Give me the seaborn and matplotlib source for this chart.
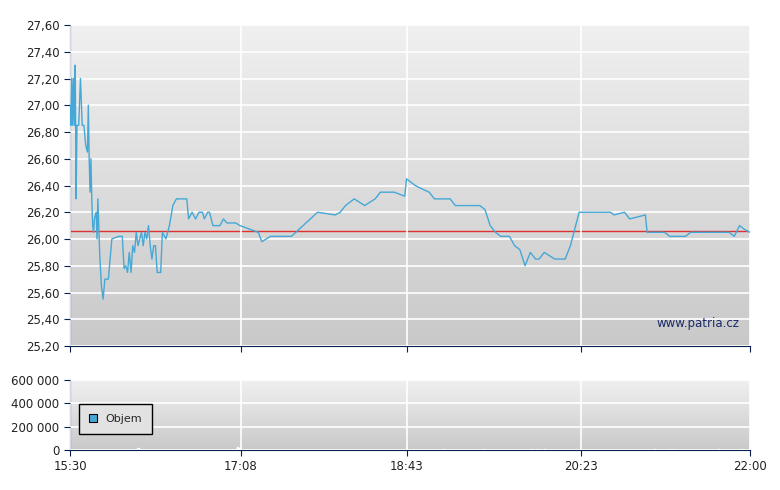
import numpy as np
import pandas as pd
import seaborn as sns
import matplotlib.pyplot as plt

# minutes since 15:30 and price
minutes = [0, 0.5, 1, 1.5, 2, 2.5, 3, 3.5, 4, 5, 6, 7, 8, 9, 10, 10.5, 11, 11.5, 12, 12.5,
           13, 13.5, 14, 15, 15.5, 16, 17, 18, 19, 20, 22, 23, 24, 28, 30, 31, 32, 33, 34, 35,
           36, 37, 38, 39, 40, 41, 42, 43, 44, 45, 46, 47, 48, 49, 50, 52, 53, 55, 57, 59,
           61, 67, 68, 70, 72, 74, 76, 77, 79, 80, 82, 86, 88, 90, 95, 97.5, 108, 110, 115, 127,
           142, 152, 155, 158, 163, 169, 175, 178, 186, 192, 193, 198, 201, 206, 209, 218, 221, 235, 238, 241,
           244, 247, 252, 255, 258, 261, 264, 267, 269, 272, 278, 284, 287, 290, 292, 310, 312, 318, 321, 330,
           331, 341, 344, 353, 356, 361, 378, 381, 384, 387, 390]
price = [27.0, 26.85, 27.2, 26.85, 27.2, 26.85, 27.3, 26.3, 26.85, 26.85, 27.2, 26.85, 26.85, 26.7, 26.65, 27.0, 26.6, 26.35, 26.6, 26.3,
         26.1, 26.05, 26.15, 26.2, 26.0, 26.3, 25.9, 25.65, 25.55, 25.7, 25.7, 25.85, 26.0, 26.02, 26.02, 25.78, 25.8, 25.75, 25.9, 25.75,
         25.95, 25.9, 26.05, 25.95, 26.0, 26.05, 25.95, 26.05, 26.0, 26.1, 25.95, 25.85, 25.95, 25.95, 25.75, 25.75, 26.05, 26.0, 26.1, 26.25,
         26.3, 26.3, 26.15, 26.2, 26.15, 26.2, 26.2, 26.15, 26.2, 26.2, 26.1, 26.1, 26.15, 26.12, 26.12, 26.1, 26.05, 25.98, 26.02, 26.02,
         26.2, 26.18, 26.2, 26.25, 26.3, 26.25, 26.3, 26.35, 26.35, 26.32, 26.45, 26.4, 26.38, 26.35, 26.3, 26.3, 26.25, 26.25, 26.22, 26.1,
         26.05, 26.02, 26.02, 25.95, 25.92, 25.8, 25.9, 25.85, 25.85, 25.9, 25.85, 25.85, 25.95, 26.1, 26.2, 26.2, 26.18, 26.2, 26.15, 26.18,
         26.05, 26.05, 26.02, 26.02, 26.05, 26.05, 26.05, 26.02, 26.1, 26.07, 26.05]
ref_price = 26.06

vol_min = [39, 95, 96, 97, 175, 214, 217, 238, 255, 265, 268, 272, 292, 330, 335, 345, 360, 372, 385]
vol_val = [15000, 12000, 22000, 20000, 4000, 5000, 3000, 6000, 4000, 5000, 6000, 12000, 3000, 4000, 5000, 5000, 4000, 6000, 8000]

tick_pos = [0, 98, 193, 293, 390]
tick_lab = ["15:30", "17:08", "18:43", "20:23", "22:00"]

sns.set_style("white")
plt.rcParams['font.family'] = ['DejaVu Sans']
fig = plt.figure(figsize=(7.8, 4.9), dpi=100)
ax = fig.add_axes([70/780, 1-346/490, 680/780, 321/490])
ax2 = fig.add_axes([70/780, 1-450/490, 680/780, 70/490])

navy = "#0a2050"
grad = np.linspace(0, 1, 256).reshape(-1, 1)
for a in (ax, ax2):
    a.imshow(grad, extent=[0, 1, 0, 1], transform=a.transAxes, cmap=plt.cm.colors.LinearSegmentedColormap.from_list("g", ["#f0f0f0", "#c9c9c9"]),
             aspect="auto", zorder=0)
    a.set_xlim(0, 390)
    a.set_xticks(tick_pos)
    a.grid(True, color="white", lw=1.2, zorder=1)
    a.set_axisbelow(False)
    for s in ("top", "right"):
        a.spines[s].set_visible(False)
    for s in ("left", "bottom"):
        a.spines[s].set_color(navy)
    a.tick_params(direction="out", length=4, color=navy, labelsize=8.5, labelcolor="#222222", left=True, bottom=True)

df = pd.DataFrame({"t": minutes, "p": price})
sns.lineplot(data=df, x="t", y="p", ax=ax, color="#45a8d6", lw=1, zorder=3)
ax.axhline(ref_price, color="#e03030", lw=1, zorder=2)
ax.set_ylim(25.2, 27.6)
yt = np.round(np.arange(25.2, 27.61, 0.2), 2)
ax.set_yticks(yt)
ax.set_yticklabels([f"{v:.2f}".replace(".", ",") for v in yt])
ax.set_xticklabels([])
ax.set_xlabel("")
ax.set_ylabel("")
ax.text(0.985, 0.06, "www.patria.cz", transform=ax.transAxes, ha="right", fontsize=8.5, color="#1a2a6a", zorder=4)

ax2.bar(vol_min, vol_val, width=0.6, color="#45a8d6", zorder=3)
ax2.set_ylim(0, 600000)
ax2.set_yticks([0, 200000, 400000, 600000])
ax2.set_yticklabels(["0", "200 000", "400 000", "600 000"])
ax2.set_xticklabels(tick_lab)
leg = ax2.legend(handles=[plt.Rectangle((0, 0), 1, 1, fc="#45a8d6", ec="black", lw=0.8)], labels=["Objem"],
                 loc="center left", bbox_to_anchor=(0.005, 0.45), fontsize=8, fancybox=False,
                 handlelength=0.7, handleheight=0.7, borderpad=0.9, framealpha=1)
leg.get_frame().set_edgecolor("black")
leg.get_frame().set_facecolor("#e2e2e2")
leg.set_zorder(5)

fig.savefig("out.png", dpi=100)
